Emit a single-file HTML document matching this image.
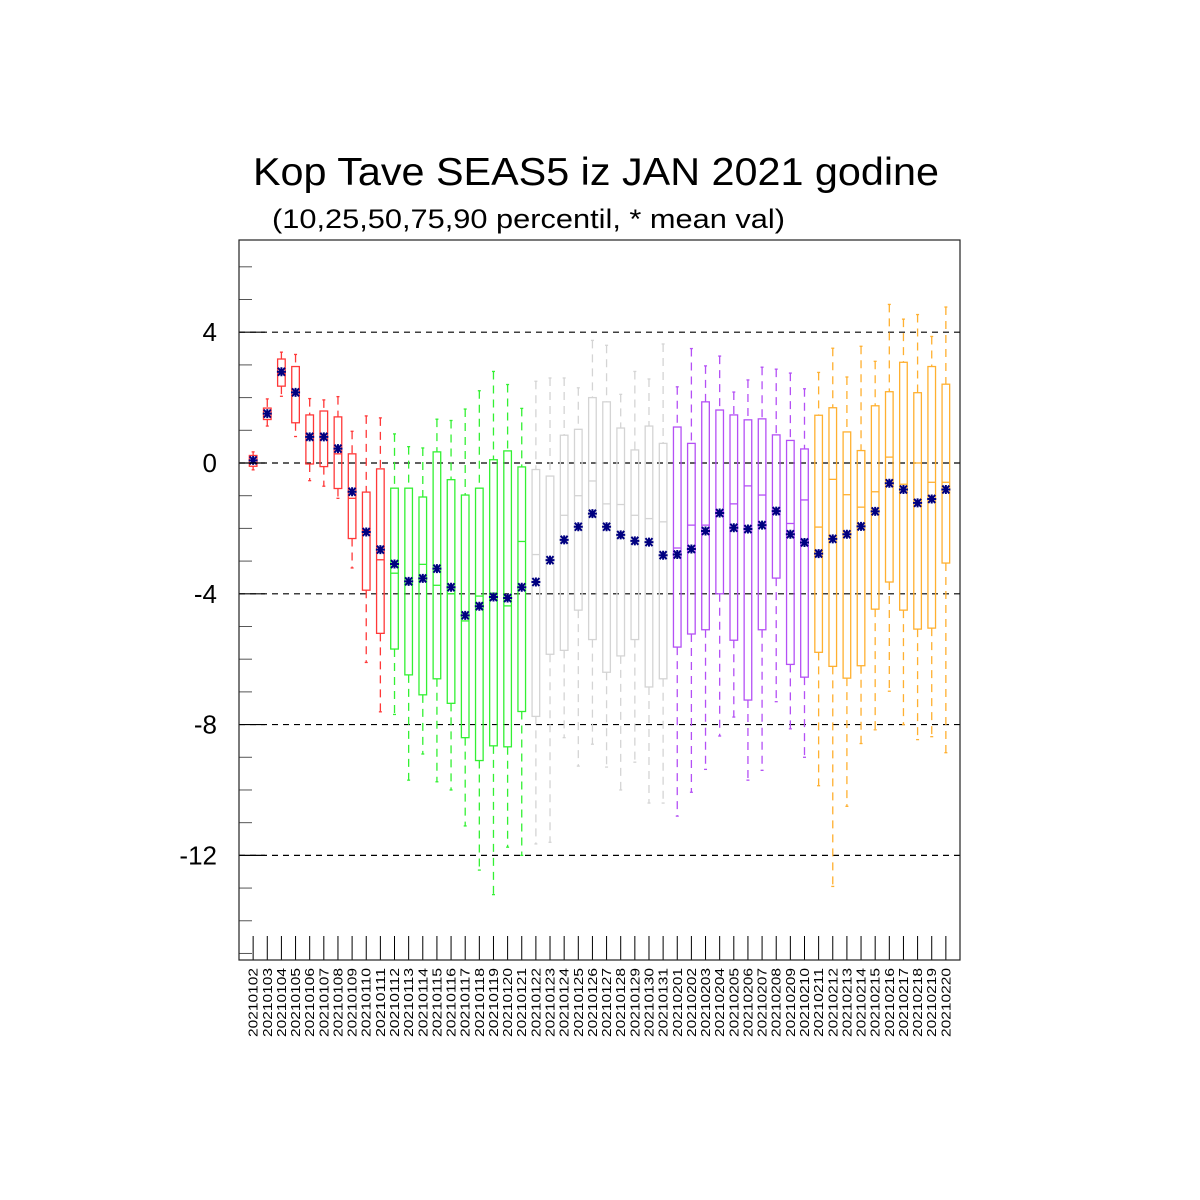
<!DOCTYPE html>
<html><head><meta charset="utf-8"><style>
html,body{margin:0;padding:0;background:#fff;}
svg{display:block;font-family:"Liberation Sans",sans-serif;}
</style></head><body>
<svg id="chart" width="1200" height="1200" viewBox="0 0 1200 1200" xmlns="http://www.w3.org/2000/svg">
<text x="253" y="185" font-size="39" textLength="686" lengthAdjust="spacingAndGlyphs" fill="#000">Kop Tave SEAS5 iz JAN 2021 godine</text>
<text x="272" y="228" font-size="27" textLength="513" lengthAdjust="spacingAndGlyphs" fill="#000">(10,25,50,75,90 percentil, * mean val)</text>
<g id="grid"></g><g id="marks"></g><g id="axes"></g>
</svg>
<script>
const categories=["20210102","20210103","20210104","20210105","20210106","20210107","20210108","20210109","20210110","20210111","20210112","20210113","20210114","20210115","20210116","20210117","20210118","20210119","20210120","20210121","20210122","20210123","20210124","20210125","20210126","20210127","20210128","20210129","20210130","20210131","20210201","20210202","20210203","20210204","20210205","20210206","20210207","20210208","20210209","20210210","20210211","20210212","20210213","20210214","20210215","20210216","20210217","20210218","20210219","20210220"];
const p10=[-0.21,1.13,2.04,0.81,-0.54,-0.71,-1.08,-3.21,-6.1,-7.61,-7.69,-9.7,-8.9,-9.75,-10.0,-11.1,-12.45,-13.2,-11.75,-12.0,-11.65,-11.6,-8.4,-9.27,-8.6,-9.3,-10.0,-9.15,-10.4,-10.4,-10.8,-10.07,-9.37,-8.35,-7.77,-9.7,-9.4,-7.3,-8.13,-9.0,-9.87,-12.95,-10.5,-8.58,-8.16,-6.98,-8.0,-8.46,-8.37,-8.86];
const p25=[-0.1,1.33,2.35,1.23,-0.03,-0.11,-0.78,-2.31,-3.89,-5.21,-5.69,-6.48,-7.09,-6.6,-7.35,-8.4,-9.1,-8.65,-8.68,-7.6,-7.75,-5.85,-5.73,-4.5,-5.4,-6.4,-5.9,-5.4,-6.85,-6.6,-5.63,-5.23,-5.1,-4.0,-5.42,-7.25,-5.1,-3.52,-6.16,-6.55,-5.79,-6.22,-6.58,-6.2,-4.47,-3.64,-4.5,-5.08,-5.05,-3.06];
const p50=[0.0,1.5,2.75,2.15,0.8,0.8,0.28,-1.08,-2.07,-2.96,-3.37,-3.7,-3.1,-3.74,-4.0,-4.83,-4.07,-3.98,-4.37,-2.4,-2.8,-2.9,-1.6,-1.0,-0.55,-1.25,-1.27,-1.6,-1.7,-1.8,-2.6,-1.9,-1.9,-1.5,-1.25,-0.7,-0.98,-1.45,-1.85,-1.13,-1.96,-0.5,-0.97,-1.35,-0.88,0.18,-0.65,0.0,-0.59,-0.59];
const p75=[0.23,1.68,3.18,2.95,1.47,1.59,1.41,0.28,-0.89,-0.18,-0.77,-0.77,-1.04,0.34,-0.51,-0.98,-0.77,0.1,0.37,-0.12,-0.2,-0.4,0.85,1.03,2.0,1.87,1.07,0.4,1.13,0.6,1.1,0.6,1.87,1.62,1.47,1.32,1.35,0.86,0.69,0.43,1.46,1.69,0.95,0.38,1.75,2.18,3.08,2.15,2.95,2.41];
const p90=[0.34,1.96,3.39,3.32,1.97,1.93,2.03,0.97,1.44,1.38,0.89,0.5,0.46,1.34,1.3,1.65,2.21,2.8,2.4,1.67,2.5,2.6,2.6,2.3,3.75,3.6,2.1,2.8,2.57,3.64,2.33,3.5,2.97,3.27,2.17,2.54,2.93,2.87,2.75,2.27,2.77,3.51,2.63,3.57,3.11,4.85,4.4,4.54,3.87,4.77];
const means=[0.08,1.51,2.79,2.16,0.8,0.8,0.44,-0.88,-2.11,-2.65,-3.09,-3.62,-3.53,-3.23,-3.8,-4.66,-4.38,-4.1,-4.13,-3.8,-3.64,-2.97,-2.35,-1.95,-1.55,-1.95,-2.2,-2.38,-2.42,-2.82,-2.8,-2.63,-2.08,-1.53,-1.98,-2.02,-1.9,-1.47,-2.18,-2.43,-2.77,-2.32,-2.18,-1.94,-1.48,-0.62,-0.81,-1.22,-1.1,-0.81];
const yTicks=[4,0,-4,-8,-12];
const yTickLabels=["4","0","-4","-8","-12"];
const groupColors=["#ff3838","#33f033","#d4d4d4","#b450f5","#ffb030"];

const NS="http://www.w3.org/2000/svg";
const L=239,R=960,T=240,B=960,YMIN=-15.2,YMAX=6.82;
function yS(v){return B-(v-YMIN)/(YMAX-YMIN)*(B-T);}
function xS(i){return L+(i+1)*(R-L)/(categories.length+1);}
function mk(parent,tag,attrs){const e=document.createElementNS(NS,tag);for(const k in attrs)e.setAttribute(k,attrs[k]);parent.appendChild(e);return e;}
const grid=document.getElementById('grid'),marks=document.getElementById('marks'),axes=document.getElementById('axes');

yTicks.forEach((v,i)=>{
  const g=mk(grid,'line',{x1:L,x2:R,y1:yS(v),y2:yS(v),stroke:'#000','stroke-width':1.2,'stroke-dasharray':'6,5'});
  
  
  const t=mk(axes,'text',{x:217,y:yS(v)+9,'font-size':26,'text-anchor':'end',fill:'#000'});
  t.textContent=yTickLabels[i];
  
  
  const tk=mk(axes,'line',{x1:L,x2:L+26,y1:yS(v),y2:yS(v),stroke:'#000','stroke-width':1.2});
  
  
});
for(let v=-15;v<=6;v++){
  if(yTicks.includes(v))continue;
  const tk=mk(axes,'line',{x1:L,x2:L+13,y1:yS(v),y2:yS(v),stroke:'#555','stroke-width':1});
  
  
}

categories.forEach((c,i)=>{
  const x=xS(i),col=groupColors[Math.floor(i/10)];
  const g=mk(marks,'g',{});
  
  
  const dash={stroke:col,'stroke-width':1.3,'stroke-dasharray':'8,6'};
  mk(g,'line',Object.assign({x1:x,x2:x,y1:yS(p90[i]),y2:yS(p75[i])},dash));
  mk(g,'line',Object.assign({x1:x,x2:x,y1:yS(p25[i]),y2:yS(p10[i])},dash));
  mk(g,'line',{x1:x-1.5,x2:x+1.5,y1:yS(p90[i]),y2:yS(p90[i]),stroke:col,'stroke-width':1.3});
  mk(g,'line',{x1:x-1.5,x2:x+1.5,y1:yS(p10[i]),y2:yS(p10[i]),stroke:col,'stroke-width':1.3});
  mk(g,'rect',{x:x-3.8,y:yS(p75[i]),width:7.6,height:Math.max(1,yS(p25[i])-yS(p75[i])),fill:'none',stroke:col,'stroke-width':1.3});
  mk(g,'line',{x1:x-3.8,x2:x+3.8,y1:yS(p50[i]),y2:yS(p50[i]),stroke:col,'stroke-width':1.3});
  const my=yS(means[i]);
  const m=mk(marks,'path',{d:'M'+(x-4.5)+' '+my+'H'+(x+4.5)+'M'+(x-3.5)+' '+(my-4)+'L'+(x+3.5)+' '+(my+4)+'M'+(x-3.5)+' '+(my+4)+'L'+(x+3.5)+' '+(my-4)+'M'+x+' '+(my-4.5)+'V'+(my+4.5),stroke:'#000080','stroke-width':2,fill:'none'});
  
  
  const tk=mk(axes,'line',{x1:x,x2:x,y1:B-24,y2:B,stroke:'#000','stroke-width':1});
  
  
  const t=mk(axes,'text',{x:0,y:0,'font-size':12.5,'text-anchor':'end',textLength:69,lengthAdjust:'spacingAndGlyphs',fill:'#000',transform:'translate('+(x+4.5)+',968) rotate(-90)'});
  t.textContent=c;
  
  
});
const fr=mk(axes,'rect',{x:L,y:T,width:R-L,height:B-T,fill:'none',stroke:'#222','stroke-width':1.2});


</script>
</body></html>
